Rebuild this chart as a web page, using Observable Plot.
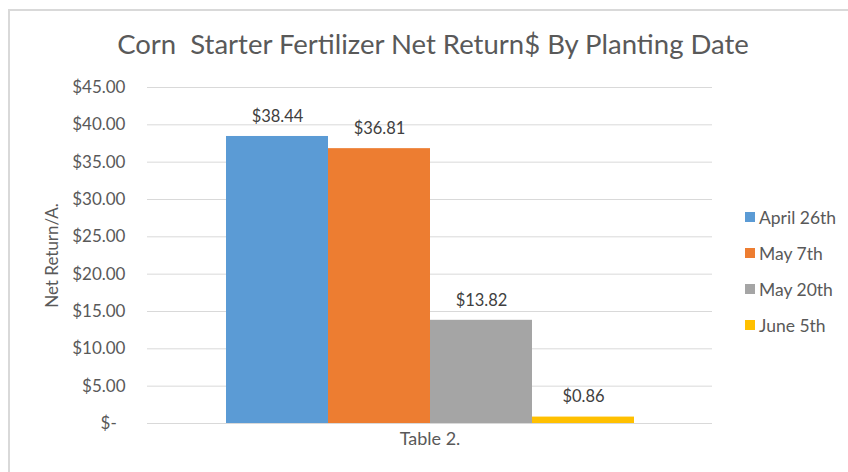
<!DOCTYPE html>
<html>
<head>
<meta charset="utf-8">
<script src="https://cdn.jsdelivr.net/npm/d3@7"></script>
<script src="https://cdn.jsdelivr.net/npm/@observablehq/plot@0.6"></script>
<style>
  html, body { margin: 0; padding: 0; background: #fff; }
  #wrap { position: relative; width: 848px; height: 472px; overflow: hidden; font-family: Lato, "Open Sans", sans-serif; }
  #border { position: absolute; left: 8px; top: 9px; right: -10px; bottom: -10px; border-top: 2px solid #d9d9d9; border-left: 2px solid #d9d9d9; }
  #chart { position: absolute; left: 0; top: 0; }
  #title { position: absolute; left: 0; width: 866px; top: 27px; text-align: center; font-size: 27.5px; color: #595959; white-space: pre; }
  #legend { position: absolute; left: 745px; top: 199px; }
  .item { display: flex; align-items: center; height: 36px; font-size: 17.5px; color: #595959; }
  .sw { width: 10px; height: 10px; margin-right: 4px; }
</style>
</head>
<body>
<div id="wrap">
  <div id="border"></div>
  <div id="chart"></div>
  <div id="title"></div>
  <div id="legend"></div>
</div>
<script>
const title = "Corn  Starter Fertilizer Net Return$ By Planting Date";
const yLabel = "Net Return/A.";
const category = "Table 2.";
const series = ["April 26th", "May 7th", "May 20th", "June 5th"];
const values = [38.44, 36.81, 13.82, 0.86];
const colors = ["#5b9bd5", "#ed7d31", "#a5a5a5", "#ffc000"];
const yTicks = [0, 5, 10, 15, 20, 25, 30, 35, 40, 45];

const data = series.map((s, i) => ({series: s, value: values[i]}));
const fmt = v => v === 0 ? "$-\u00a0\u00a0" : "$" + v.toFixed(2);

const chart = Plot.plot({
  width: 848,
  height: 472,
  marginTop: 87,
  marginBottom: 49,
  marginLeft: 147,
  marginRight: 136,
  style: {fontFamily: "Lato, 'Open Sans', sans-serif", background: "transparent"},
  x: {type: "band", domain: series, range: [226, 634], padding: 0, axis: null},
  y: {domain: [0, 45], axis: null},
  color: {domain: series, range: colors},
  marks: [
    Plot.ruleY(yTicks, {stroke: "#d9d9d9", strokeWidth: 1}),
    Plot.barY(data, {x: "series", y: "value", fill: "series", inset: 0}),
    Plot.text(data, {x: "series", y: "value", text: d => fmt(d.value), dy: -20, fill: "#404040", fontSize: 16.5}),
    Plot.axisY(yTicks, {tickSize: 0, tickPadding: 22, tickFormat: fmt, fontSize: 17, fill: "#595959",
      label: yLabel, labelAnchor: "center", labelArrow: "none", labelOffset: 102, fontSize: 17}),
    Plot.text([category], {frameAnchor: "bottom", text: d => d, dy: 21, fill: "#595959", fontSize: 18})
  ]
});
document.getElementById("chart").appendChild(chart);
document.getElementById("title").textContent = title;

const legend = document.getElementById("legend");
series.forEach((s, i) => {
  const item = document.createElement("div");
  item.className = "item";
  const sw = document.createElement("span");
  sw.className = "sw";
  sw.style.background = colors[i];
  const t = document.createElement("span");
  t.textContent = s;
  item.appendChild(sw);
  item.appendChild(t);
  legend.appendChild(item);
});
</script>
</body>
</html>
